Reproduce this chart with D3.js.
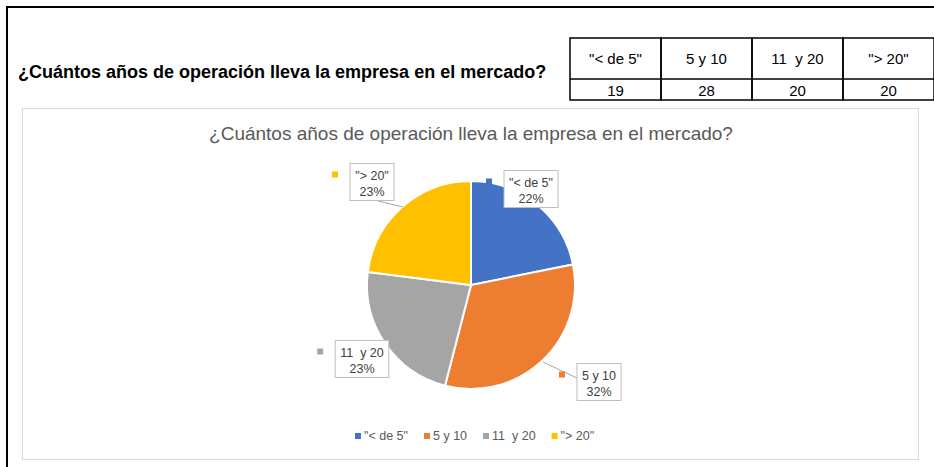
<!DOCTYPE html>
<html>
<head>
<meta charset="utf-8">
<script src="https://cdn.jsdelivr.net/npm/d3@7"></script>
<style>
  body { margin: 0; background: #fff; }
  svg { display: block; }
</style>
</head>
<body>
<svg id="chart" width="934" height="467"></svg>
<script>
// datos de la tabla / grafico
var categories = ['"< de 5"', '5 y 10', '11  y 20', '"> 20"'];
var values = [19, 28, 20, 20];
var colors = ['#4472c4', '#ed7d31', '#a5a5a5', '#ffc000'];
var question = '¿Cuántos años de operación lleva la empresa en el mercado?';

var svg = d3.select('#chart');
var width = 934, height = 467;

// marco exterior
svg.append('path')
    .attr('d', 'M7,467 L7,7 L934,7')
    .attr('fill', 'none')
    .attr('stroke', '#000')
    .attr('stroke-width', 2);

// titulo de la hoja
svg.append('text')
    .attr('x', 18)
    .attr('y', 78)
    .style('font-family', 'Liberation Sans, Arial, sans-serif')
    .style('font-weight', 'bold')
    .style('font-size', '18px')
    .attr('fill', '#000')
    .text(question);

// tabla
var colX = d3.scaleBand().domain(categories).range([570, 934]);
var rowTop = 38, rowMid = 79, rowBot = 100;
var fontTbl = 'Liberation Sans Narrow, Arial Narrow, sans-serif';
var table = svg.append('g');
categories.forEach(function (c, i) {
    var x = colX(c);
    table.append('rect')
        .attr('x', x).attr('y', rowTop)
        .attr('width', colX.bandwidth()).attr('height', rowBot - rowTop)
        .attr('fill', 'none').attr('stroke', '#000').attr('stroke-width', 1.5);
    table.append('text')
        .attr('x', x + colX.bandwidth() / 2).attr('y', 64)
        .attr('text-anchor', 'middle')
        .style('font-family', fontTbl)
        .style('font-size', '15px')
        .text(c.replace('  ', '\u00a0\u00a0'));
    table.append('text')
        .attr('x', x + colX.bandwidth() / 2).attr('y', 96)
        .attr('text-anchor', 'middle')
        .style('font-family', fontTbl)
        .style('font-size', '15px')
        .text(values[i]);
});
table.append('line')
    .attr('x1', 570).attr('x2', 934).attr('y1', rowMid).attr('y2', rowMid)
    .attr('stroke', '#000').attr('stroke-width', 1.5);

// area del grafico
svg.append('rect')
    .attr('x', 22.5).attr('y', 108.5)
    .attr('width', 896).attr('height', 351)
    .attr('fill', '#fff').attr('stroke', '#d9d9d9');

svg.append('text')
    .attr('x', 471).attr('y', 140)
    .attr('text-anchor', 'middle')
    .style('font-family', 'Liberation Sans, Arial, sans-serif')
    .style('font-size', '19px')
    .attr('fill', '#595959')
    .text(question);

// pastel
var cx = 471, cy = 285, r = 104;
var total = d3.sum(values);
var pie = d3.pie().sort(null)(values);
var arc = d3.arc().innerRadius(0).outerRadius(r);
var color = d3.scaleOrdinal().domain(categories).range(colors);

var g = svg.append('g').attr('transform', 'translate(' + cx + ',' + cy + ')');
g.selectAll('path')
    .data(pie)
    .enter()
    .append('path')
    .attr('d', arc)
    .attr('fill', function (d, i) { return color(categories[i]); })
    .attr('stroke', '#fff')
    .attr('stroke-width', 2);

// etiquetas (posicion relativa al centro)
var labelPos = [[60, -95], [128, 98], [-109, 75], [-99, -102]];
var leader = [null, [[72, 77], [106, 93]], null, [[-93, -84], [-68, -78]]];
var fontLbl = 'Liberation Sans, Arial, sans-serif';

pie.forEach(function (d, i) {
    var p = labelPos[i];
    if (leader[i]) {
        g.append('polyline')
            .attr('points', leader[i].map(function (q) { return q.join(','); }).join(' '))
            .attr('fill', 'none').attr('stroke', '#a6a6a6');
    }
    var lg = g.append('g').attr('transform', 'translate(' + p[0] + ',' + p[1] + ')');
    var t1 = categories[i];
    var t2 = Math.round(d.value / total * 100) + '%';
    var txt = lg.append('text')
        .attr('text-anchor', 'middle')
        .style('font-family', fontLbl)
        .style('font-size', '12.5px')
        .attr('fill', '#404040');
    txt.append('tspan').attr('x', 0).attr('y', -3).text(t1.replace('  ', '\u00a0\u00a0'));
    txt.append('tspan').attr('x', 0).attr('y', 13).text(t2);
    var bb = txt.node().getBBox();
    var w = Math.max(bb.width + 10, 44), h = 37;
    lg.insert('rect', 'text')
        .attr('x', -w / 2).attr('y', -h / 2 - 1)
        .attr('width', w).attr('height', h)
        .attr('fill', '#fff').attr('stroke', '#bfbfbf');
    lg.append('rect')
        .attr('x', -w / 2 - 18).attr('y', -h / 2 + 7)
        .attr('width', 6).attr('height', 6)
        .attr('fill', color(categories[i]));
});

// leyenda
var legend = svg.append('g').attr('transform', 'translate(0,437)');
var lx = 355;
categories.forEach(function (c, i) {
    var item = legend.append('g').attr('transform', 'translate(' + lx + ',0)');
    item.append('rect')
        .attr('x', 0).attr('y', -4)
        .attr('width', 6).attr('height', 6)
        .attr('fill', color(c));
    var t = item.append('text')
        .attr('x', 9).attr('y', 3)
        .style('font-family', fontLbl)
        .style('font-size', '12.5px')
        .attr('fill', '#595959')
        .text(c.replace('  ', '\u00a0\u00a0'));
    lx += 9 + t.node().getComputedTextLength() + 16;
});
</script>
</body>
</html>
